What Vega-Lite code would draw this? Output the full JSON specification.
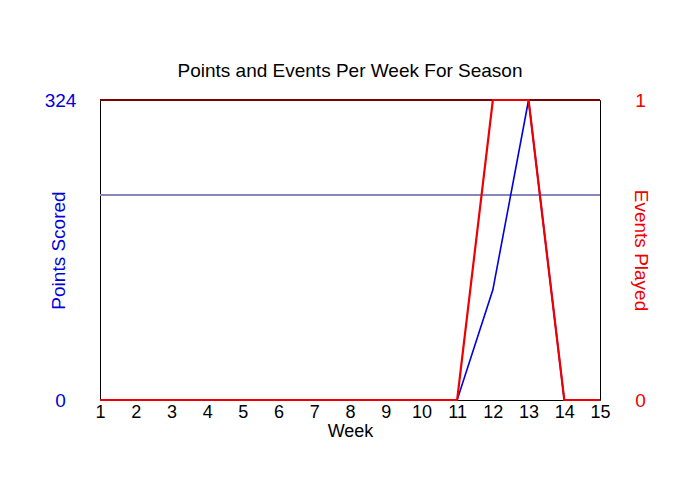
{
  "$schema": "https://vega.github.io/schema/vega-lite/v6.json",
  "autosize": "none",
  "width": 500,
  "height": 300,
  "padding": {"left": 100, "top": 100, "right": 100, "bottom": 100},
  "background": "white",
  "config": {
    "font": "Liberation Sans",
    "view": {"stroke": "black", "strokeWidth": 1}
  },
  "title": {
    "text": "Points and Events Per Week For Season",
    "fontSize": 19,
    "fontWeight": "normal",
    "color": "black",
    "anchor": "middle",
    "offset": 10
  },
  "data": {
    "values": [
      {"week": 1, "points": 0, "events": 0},
      {"week": 2, "points": 0, "events": 0},
      {"week": 3, "points": 0, "events": 0},
      {"week": 4, "points": 0, "events": 0},
      {"week": 5, "points": 0, "events": 0},
      {"week": 6, "points": 0, "events": 0},
      {"week": 7, "points": 0, "events": 0},
      {"week": 8, "points": 0, "events": 0},
      {"week": 9, "points": 0, "events": 0},
      {"week": 10, "points": 0, "events": 0},
      {"week": 11, "points": 0, "events": 0},
      {"week": 12, "points": 119, "events": 1},
      {"week": 13, "points": 324, "events": 1},
      {"week": 14, "points": 0, "events": 0},
      {"week": 15, "points": 0, "events": 0}
    ]
  },
  "encoding": {
    "x": {
      "field": "week",
      "type": "quantitative",
      "scale": {"domain": [1, 15], "nice": false, "zero": false},
      "axis": {
        "title": "Week",
        "values": [1, 2, 3, 4, 5, 6, 7, 8, 9, 10, 11, 12, 13, 14, 15],
        "format": "d",
        "grid": false,
        "domain": false,
        "ticks": false,
        "labelFontSize": 18,
        "labelColor": "black",
        "labelPadding": 3,
        "labelFlush": false,
        "labelOverlap": false,
        "titleFontSize": 18,
        "titleFontWeight": "normal",
        "titleColor": "black",
        "titlePadding": 1
      }
    }
  },
  "layer": [
    {
      "layer": [
        {
          "mark": {"type": "rule", "color": "#8888bb", "strokeWidth": 1},
          "encoding": {"x": {"datum": 1}, "x2": {"datum": 15}, "y": {"datum": 221.5}}
        },
        {
          "mark": {"type": "rule", "color": "#800000", "strokeWidth": 1},
          "encoding": {"x": {"datum": 1}, "x2": {"datum": 15}, "y": {"datum": 324}}
        },
        {
          "mark": {"type": "line", "color": "#0000dd", "strokeWidth": 1.6},
          "encoding": {
            "y": {
              "field": "points",
              "type": "quantitative",
              "scale": {"domain": [0, 324], "nice": false},
              "axis": {
                "title": "Points Scored",
                "values": [0, 324],
                "grid": false,
                "domain": false,
                "ticks": false,
                "labelFontSize": 19,
                "labelColor": "#0000dd",
                "labelAlign": "center",
                "labelPadding": 40,
                "titleFontSize": 19,
                "titleFontWeight": "normal",
                "titleColor": "#0000dd",
                "titleAngle": -90,
                "titleX": -42,
                "titleY": 150,
                "titleAlign": "center",
                "titleBaseline": "middle"
              }
            }
          }
        }
      ]
    },
    {
      "mark": {"type": "line", "color": "#ee0000", "strokeWidth": 2.2},
      "encoding": {
        "y": {
          "field": "events",
          "type": "quantitative",
          "scale": {"domain": [0, 1], "nice": false},
          "axis": {
            "orient": "right",
            "title": "Events Played",
            "values": [0, 1],
            "format": "d",
            "grid": false,
            "domain": false,
            "ticks": false,
            "labelFontSize": 19,
            "labelColor": "#ee0000",
            "labelAlign": "center",
            "labelPadding": 40,
            "titleFontSize": 19,
            "titleFontWeight": "normal",
            "titleColor": "#ee0000",
            "titleAngle": 90,
            "titleX": 40,
            "titleY": 150,
            "titleAlign": "center",
            "titleBaseline": "middle"
          }
        }
      }
    }
  ],
  "resolve": {"scale": {"y": "independent"}, "axis": {"y": "independent"}}
}
